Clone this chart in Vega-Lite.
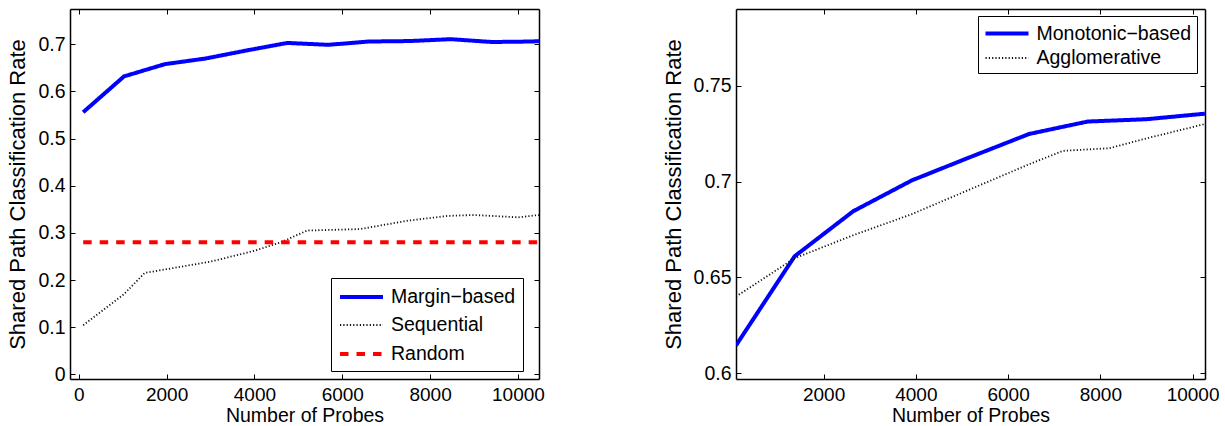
{
  "$schema": "https://vega.github.io/schema/vega-lite/v6.json",
  "padding": {"left": 6, "top": 8, "right": 0, "bottom": 0},
  "autosize": {"type": "pad"},
  "background": "white",
  "config": {
    "font": "Liberation Sans",
    "view": {"stroke": null},
    "axis": {
      "grid": false,
      "domainColor": "black",
      "domainWidth": 1.5,
      "tickColor": "black",
      "tickWidth": 1,
      "tickSize": -5,
      "labelPadding": 10,
      "labelFontSize": 19.5,
      "labelColor": "black",
      "titleFontSize": 20,
      "titleFontWeight": "normal",
      "titleColor": "black"
    },
    "axisBottom": {"labelPadding": 11, "labelFontSize": 19},
    "legend": {
      "orient": "none",
      "title": null,
      "strokeColor": "black",
      "fillColor": "white",
      "padding": 7,
      "labelFontSize": 19.5,
      "labelColor": "black",
      "labelOffset": 29,
      "symbolType": "M-1,0H3.3",
      "symbolSize": 400,
      "cornerRadius": 0
    }
  },
  "datasets": {
    "left": [
      {"n": 100, "rate": 0.556, "method": "Margin−based"},
      {"n": 1030, "rate": 0.632, "method": "Margin−based"},
      {"n": 1960, "rate": 0.658, "method": "Margin−based"},
      {"n": 2890, "rate": 0.670, "method": "Margin−based"},
      {"n": 3820, "rate": 0.687, "method": "Margin−based"},
      {"n": 4750, "rate": 0.703, "method": "Margin−based"},
      {"n": 5680, "rate": 0.699, "method": "Margin−based"},
      {"n": 6610, "rate": 0.706, "method": "Margin−based"},
      {"n": 7540, "rate": 0.707, "method": "Margin−based"},
      {"n": 8470, "rate": 0.711, "method": "Margin−based"},
      {"n": 9400, "rate": 0.705, "method": "Margin−based"},
      {"n": 10330, "rate": 0.706, "method": "Margin−based"},
      {"n": 10480, "rate": 0.707, "method": "Margin−based"},
      {"n": 100, "rate": 0.104, "method": "Sequential"},
      {"n": 1030, "rate": 0.170, "method": "Sequential"},
      {"n": 1500, "rate": 0.215, "method": "Sequential"},
      {"n": 2000, "rate": 0.223, "method": "Sequential"},
      {"n": 3000, "rate": 0.239, "method": "Sequential"},
      {"n": 4000, "rate": 0.262, "method": "Sequential"},
      {"n": 4600, "rate": 0.280, "method": "Sequential"},
      {"n": 5200, "rate": 0.305, "method": "Sequential"},
      {"n": 6400, "rate": 0.308, "method": "Sequential"},
      {"n": 7500, "rate": 0.326, "method": "Sequential"},
      {"n": 8400, "rate": 0.336, "method": "Sequential"},
      {"n": 9000, "rate": 0.338, "method": "Sequential"},
      {"n": 10000, "rate": 0.333, "method": "Sequential"},
      {"n": 10480, "rate": 0.338, "method": "Sequential"},
      {"n": 100, "rate": 0.280, "method": "Random"},
      {"n": 10480, "rate": 0.280, "method": "Random"}
    ],
    "right": [
      {"n": 100, "rate": 0.6145, "method": "Monotonic−based"},
      {"n": 1371, "rate": 0.661, "method": "Monotonic−based"},
      {"n": 2642, "rate": 0.6845, "method": "Monotonic−based"},
      {"n": 3913, "rate": 0.7006, "method": "Monotonic−based"},
      {"n": 5184, "rate": 0.7128, "method": "Monotonic−based"},
      {"n": 6455, "rate": 0.7248, "method": "Monotonic−based"},
      {"n": 7726, "rate": 0.7313, "method": "Monotonic−based"},
      {"n": 8997, "rate": 0.7325, "method": "Monotonic−based"},
      {"n": 10268, "rate": 0.7354, "method": "Monotonic−based"},
      {"n": 100, "rate": 0.640, "method": "Agglomerative"},
      {"n": 1371, "rate": 0.660, "method": "Agglomerative"},
      {"n": 2642, "rate": 0.672, "method": "Agglomerative"},
      {"n": 3913, "rate": 0.683, "method": "Agglomerative"},
      {"n": 5184, "rate": 0.696, "method": "Agglomerative"},
      {"n": 6455, "rate": 0.709, "method": "Agglomerative"},
      {"n": 7190, "rate": 0.716, "method": "Agglomerative"},
      {"n": 8200, "rate": 0.7174, "method": "Agglomerative"},
      {"n": 9000, "rate": 0.7225, "method": "Agglomerative"},
      {"n": 10268, "rate": 0.730, "method": "Agglomerative"}
    ]
  },
  "spacing": 117,
  "resolve": {"scale": {"color": "independent", "strokeDash": "independent", "strokeWidth": "independent"}},
  "hconcat": [
    {
      "width": 469,
      "height": 370,
      "data": {"name": "left"},
      "resolve": {"axis": {"x": "independent", "y": "independent"}},
      "layer": [
        {
          "mark": {"type": "line", "clip": true},
          "encoding": {
            "x": {"field": "n", "type": "quantitative", "scale": {"domain": [-200, 10480], "nice": false, "zero": false},
                  "axis": {"orient": "bottom", "values": [0, 2000, 4000, 6000, 8000, 10000], "format": "d", "title": "Number of Probes", "titlePadding": 2, "titleFontSize": 19.5}},
            "y": {"field": "rate", "type": "quantitative", "scale": {"domain": [-0.01, 0.775], "nice": false, "zero": false},
                  "axis": {"orient": "left", "values": [0, 0.1, 0.2, 0.3, 0.4, 0.5, 0.6, 0.7], "format": "~g", "title": "Shared Path Classification Rate", "titleFontSize": 22, "titlePadding": 8}},
            "color": {"field": "method", "type": "nominal",
                      "scale": {"domain": ["Margin−based", "Sequential", "Random"], "range": ["#0000ff", "#111111", "#ff0000"]},
                      "legend": {"legendX": 261, "legendY": 269, "rowPadding": 7}},
            "strokeDash": {"field": "method", "type": "nominal",
                      "scale": {"domain": ["Margin−based", "Sequential", "Random"], "range": [[1, 0], [1.2, 2.1], [8.5, 8]]}},
            "strokeWidth": {"field": "method", "type": "nominal",
                      "scale": {"type": "ordinal", "domain": ["Margin−based", "Sequential", "Random"], "range": [4, 1.8, 4]}}
          }
        },
        {
          "mark": {"type": "line", "opacity": 0},
          "encoding": {
            "x": {"field": "n", "type": "quantitative", "axis": {"orient": "top", "values": [0, 2000, 4000, 6000, 8000, 10000], "labels": false, "title": null}},
            "y": {"field": "rate", "type": "quantitative", "axis": {"orient": "right", "values": [0, 0.1, 0.2, 0.3, 0.4, 0.5, 0.6, 0.7], "labels": false, "title": null}},
            "detail": {"field": "method"}
          }
        }
      ]
    },
    {
      "width": 469,
      "height": 370,
      "data": {"name": "right"},
      "resolve": {"axis": {"x": "independent", "y": "independent"}},
      "layer": [
        {
          "mark": {"type": "line", "clip": true},
          "encoding": {
            "x": {"field": "n", "type": "quantitative", "scale": {"domain": [100, 10270], "nice": false, "zero": false},
                  "axis": {"orient": "bottom", "values": [2000, 4000, 6000, 8000, 10000], "format": "d", "title": "Number of Probes", "titlePadding": 2, "titleFontSize": 19.5}},
            "y": {"field": "rate", "type": "quantitative", "scale": {"domain": [0.597, 0.79], "nice": false, "zero": false},
                  "axis": {"orient": "left", "values": [0.6, 0.65, 0.7, 0.75], "format": "~g", "title": "Shared Path Classification Rate", "titleFontSize": 22, "titlePadding": 8}},
            "color": {"field": "method", "type": "nominal",
                      "scale": {"domain": ["Monotonic−based", "Agglomerative"], "range": ["#0000ff", "#111111"]},
                      "legend": {"legendX": 242, "legendY": 7, "rowPadding": 3.5, "padding": 5.5}},
            "strokeDash": {"field": "method", "type": "nominal",
                      "scale": {"domain": ["Monotonic−based", "Agglomerative"], "range": [[1, 0], [1.2, 2.1]]}},
            "strokeWidth": {"field": "method", "type": "nominal",
                      "scale": {"type": "ordinal", "domain": ["Monotonic−based", "Agglomerative"], "range": [4, 1.8]}}
          }
        },
        {
          "mark": {"type": "line", "opacity": 0},
          "encoding": {
            "x": {"field": "n", "type": "quantitative", "axis": {"orient": "top", "values": [2000, 4000, 6000, 8000, 10000], "labels": false, "title": null}},
            "y": {"field": "rate", "type": "quantitative", "axis": {"orient": "right", "values": [0.6, 0.65, 0.7, 0.75], "labels": false, "title": null}},
            "detail": {"field": "method"}
          }
        }
      ]
    }
  ]
}
